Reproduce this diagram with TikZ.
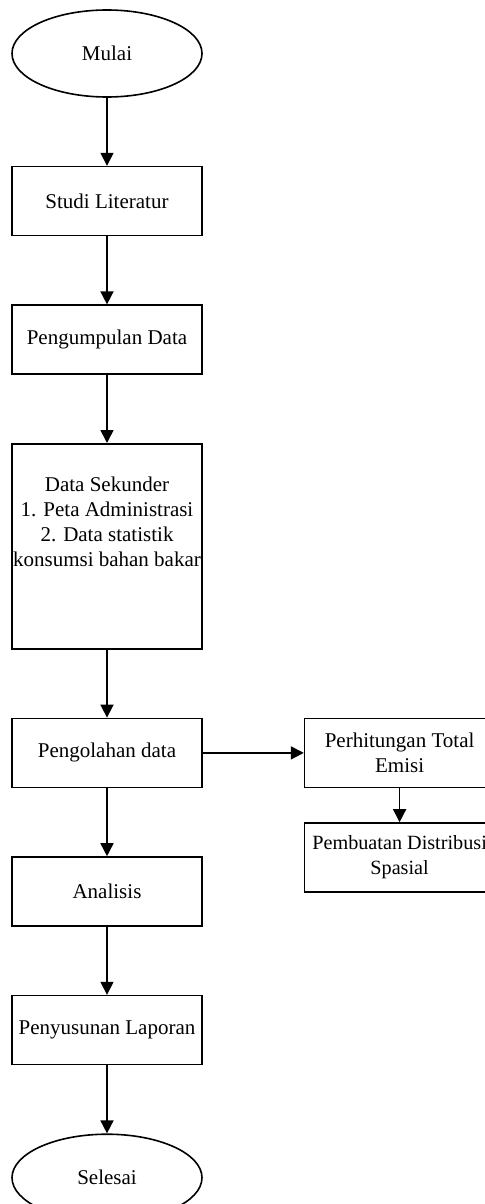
\documentclass[tikz,border=0pt]{standalone}
\usepackage{fontspec}
\setmainfont{Liberation Serif}
\usetikzlibrary{shapes.geometric, positioning, arrows.meta}

\begin{document}
\begin{tikzpicture}[
    node distance=34pt,
    proses/.style={draw, line width=0.8pt, minimum width=95pt,
        minimum height=34.5pt, inner sep=0pt, align=center,
        font=\fontsize{10.5}{12.5}\selectfont},
    terminal/.style={proses, ellipse, minimum height=43.5pt},
    panah/.style={line width=0.8pt, -{Triangle[length=6.5pt, width=6.5pt]}}
]
\useasboundingbox (0,0) rectangle (242.5pt,-602pt);

\node[terminal] (mulai) at (53.5pt,-26.75pt) {Mulai};
\node[proses, below=of mulai] (studi) {Studi Literatur};
\node[proses, below=of studi] (kumpul) {Pengumpulan Data};
\node[proses, below=of kumpul, minimum height=102.5pt] (sekunder)
    {Data Sekunder\\1. Peta Administrasi\\2. Data statistik\\konsumsi bahan bakar\\[12pt]};
\node[proses, below=of sekunder] (olah) {Pengolahan data};
\node[proses, below=of olah] (analisis) {Analisis};
\node[proses, below=of analisis] (laporan) {Penyusunan Laporan};
\node[terminal, below=of laporan] (selesai) {Selesai};

\node[proses, right=50.5pt of olah] (hitung) {Perhitungan Total\\Emisi};
\node[proses, below=17pt of hitung, font=\fontsize{10.1}{12.5}\selectfont] (sebaran)
    {Pembuatan Distribusi\\Spasial};

\draw[panah]
    (mulai) edge (studi)
    (studi) edge (kumpul)
    (kumpul) edge (sekunder)
    (sekunder) edge (olah)
    (olah) edge (analisis)
    (analisis) edge (laporan)
    (laporan) edge (selesai)
    (olah) edge (hitung)
    (hitung) edge (sebaran)
    ;
\end{tikzpicture}
\end{document}
